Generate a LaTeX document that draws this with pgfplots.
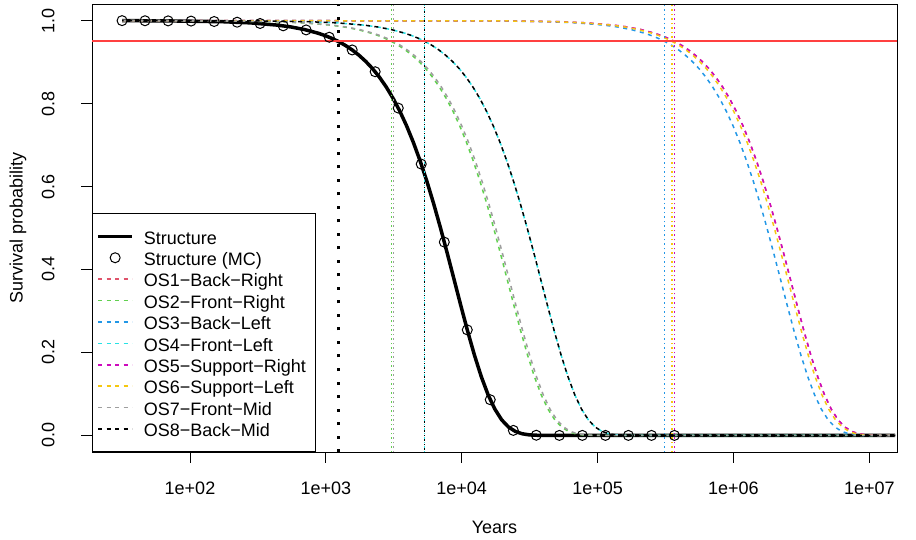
\documentclass[border=0pt]{standalone}
\usepackage{pgfplots}
\usepackage{pgfplotstable}
\pgfplotsset{compat=1.18}
\usepackage{fontspec}
\setmainfont{Liberation Sans}

\definecolor{osRed}{rgb}{0.875,0.325,0.420}
\definecolor{osGreen}{rgb}{0.380,0.816,0.310}
\definecolor{osBlue}{rgb}{0.133,0.592,0.902}
\definecolor{osCyan}{rgb}{0.157,0.886,0.898}
\definecolor{osMagenta}{rgb}{0.804,0.043,0.737}
\definecolor{osGold}{rgb}{0.961,0.780,0.063}
\definecolor{osGray}{rgb}{0.620,0.620,0.620}
\definecolor{targetRed}{rgb}{1,0.25,0.25}

\tikzset{
  osdash/.style={dash pattern=on 4bp off 4.5bp, line width=1.5bp},
  vdot/.style={dash pattern=on 1.5bp off 3bp, line width=1.3bp},
}

% u = log10(years), S = survival probability
\pgfplotstableread{
u S
1.500 0.99979
1.844 0.99931
2.244 0.99724
2.444 0.99451
2.644 0.98907
2.744 0.98460
2.844 0.97832
2.944 0.96951
2.994 0.96388
3.044 0.95723
3.094 0.94934
3.144 0.94012
3.194 0.92921
3.244 0.91644
3.294 0.90148
3.344 0.88410
3.394 0.86373
3.444 0.84020
3.494 0.81308
3.544 0.78200
3.594 0.74654
3.644 0.70650
3.694 0.66177
3.744 0.61220
3.794 0.55809
3.844 0.50000
3.894 0.43875
3.944 0.37570
3.994 0.31233
4.044 0.25080
4.094 0.19326
4.144 0.14180
4.194 0.09810
4.244 0.06340
4.294 0.03763
4.344 0.02030
4.394 0.00974
4.444 0.00407
4.494 0.00144
4.544 0.00042
4.644 0.00002
4.744 0
7.190 0
}\tabStruct

\pgfplotstableread{
u S
1.500 0.9999
1.669 0.9996
1.839 0.9993
2.008 0.9988
2.178 0.9978
2.347 0.9961
2.516 0.9930
2.686 0.9874
2.855 0.9775
3.025 0.9599
3.194 0.9292
3.363 0.8767
3.533 0.7891
3.702 0.6541
3.872 0.4660
4.041 0.2544
4.210 0.0860
4.380 0.0121
4.549 0.0004
4.719 0
4.888 0
5.058 0
5.227 0
5.397 0
5.566 0
}\tabMC

\pgfplotstableread{
u S
1.500 1.0000
2.235 0.99931
2.635 0.99724
2.835 0.99451
3.035 0.98907
3.135 0.98460
3.235 0.97832
3.335 0.96951
3.385 0.96388
3.435 0.95723
3.485 0.94934
3.535 0.94012
3.585 0.92921
3.635 0.91644
3.685 0.90148
3.735 0.88410
3.785 0.86373
3.835 0.84020
3.885 0.81308
3.935 0.78200
3.985 0.74654
4.035 0.70650
4.085 0.66177
4.135 0.61220
4.185 0.55809
4.235 0.50000
4.285 0.43875
4.335 0.37570
4.385 0.31233
4.435 0.25080
4.485 0.19326
4.535 0.14180
4.585 0.09810
4.635 0.06340
4.685 0.03763
4.735 0.02030
4.785 0.00974
4.835 0.00407
4.885 0.00144
4.935 0.00042
5.035 0.00002
5.135 0
7.190 0
}\tabOSii

\pgfplotstableread{
u S
1.500 1.0000
2.250 0.99931
2.650 0.99724
2.850 0.99451
3.050 0.98907
3.150 0.98460
3.250 0.97832
3.350 0.96951
3.400 0.96388
3.450 0.95723
3.500 0.94934
3.550 0.94012
3.600 0.92921
3.650 0.91644
3.700 0.90148
3.750 0.88410
3.800 0.86373
3.850 0.84020
3.900 0.81308
3.950 0.78200
4.000 0.74654
4.050 0.70650
4.100 0.66177
4.150 0.61220
4.200 0.55809
4.250 0.50000
4.300 0.43875
4.350 0.37570
4.400 0.31233
4.450 0.25080
4.500 0.19326
4.550 0.14180
4.600 0.09810
4.650 0.06340
4.700 0.03763
4.750 0.02030
4.800 0.00974
4.850 0.00407
4.900 0.00144
4.950 0.00042
5.050 0.00002
5.150 0
7.190 0
}\tabOSvii

\pgfplotstableread{
u S
1.500 1.0000
2.482 0.99931
2.882 0.99724
3.082 0.99451
3.282 0.98907
3.382 0.98460
3.482 0.97832
3.582 0.96951
3.632 0.96388
3.682 0.95723
3.732 0.94934
3.782 0.94012
3.832 0.92921
3.882 0.91644
3.932 0.90148
3.982 0.88410
4.032 0.86373
4.082 0.84020
4.132 0.81308
4.182 0.78200
4.232 0.74654
4.282 0.70650
4.332 0.66177
4.382 0.61220
4.432 0.55809
4.482 0.50000
4.532 0.43875
4.582 0.37570
4.632 0.31233
4.682 0.25080
4.732 0.19326
4.782 0.14180
4.832 0.09810
4.882 0.06340
4.932 0.03763
4.982 0.02030
5.032 0.00974
5.082 0.00407
5.132 0.00144
5.182 0.00042
5.282 0.00002
5.382 0
7.190 0
}\tabOSiv

\pgfplotstableread{
u S
1.500 1.0000
4.247 0.99931
4.647 0.99724
4.847 0.99451
5.047 0.98907
5.147 0.98460
5.247 0.97832
5.347 0.96951
5.397 0.96388
5.447 0.95723
5.497 0.94934
5.547 0.94012
5.597 0.92921
5.647 0.91644
5.697 0.90148
5.747 0.88410
5.797 0.86373
5.847 0.84020
5.897 0.81308
5.947 0.78200
5.997 0.74654
6.047 0.70650
6.097 0.66177
6.147 0.61220
6.197 0.55809
6.247 0.50000
6.297 0.43875
6.347 0.37570
6.397 0.31233
6.447 0.25080
6.497 0.19326
6.547 0.14180
6.597 0.09810
6.647 0.06340
6.697 0.03763
6.747 0.02030
6.797 0.00974
6.847 0.00407
6.897 0.00144
6.947 0.00042
7.047 0.00002
7.147 0
7.190 0
}\tabOSiii

\pgfplotstableread{
u S
1.500 1.0000
4.301 0.99931
4.701 0.99724
4.901 0.99451
5.101 0.98907
5.201 0.98460
5.301 0.97832
5.401 0.96951
5.451 0.96388
5.501 0.95723
5.551 0.94934
5.601 0.94012
5.651 0.92921
5.701 0.91644
5.751 0.90148
5.801 0.88410
5.851 0.86373
5.901 0.84020
5.951 0.81308
6.001 0.78200
6.051 0.74654
6.101 0.70650
6.151 0.66177
6.201 0.61220
6.251 0.55809
6.301 0.50000
6.351 0.43875
6.401 0.37570
6.451 0.31233
6.501 0.25080
6.551 0.19326
6.601 0.14180
6.651 0.09810
6.701 0.06340
6.751 0.03763
6.801 0.02030
6.851 0.00974
6.901 0.00407
6.951 0.00144
7.001 0.00042
7.101 0.00002
7.190 0
}\tabOSvi

\pgfplotstableread{
u S
1.500 1.0000
4.320 0.99931
4.720 0.99724
4.920 0.99451
5.120 0.98907
5.220 0.98460
5.320 0.97832
5.420 0.96951
5.470 0.96388
5.520 0.95723
5.570 0.94934
5.620 0.94012
5.670 0.92921
5.720 0.91644
5.770 0.90148
5.820 0.88410
5.870 0.86373
5.920 0.84020
5.970 0.81308
6.020 0.78200
6.070 0.74654
6.120 0.70650
6.170 0.66177
6.220 0.61220
6.270 0.55809
6.320 0.50000
6.370 0.43875
6.420 0.37570
6.470 0.31233
6.520 0.25080
6.570 0.19326
6.620 0.14180
6.670 0.09810
6.720 0.06340
6.770 0.03763
6.820 0.02030
6.870 0.00974
6.920 0.00407
6.970 0.00144
7.020 0.00042
7.120 0.00002
7.190 0
}\tabOSv

\begin{document}
\begin{tikzpicture}
\useasboundingbox (-92bp,-88bp) rectangle (824bp,452bp);
\begin{axis}[
  scale only axis,
  width=805bp, height=448bp,
  xmode=log,
  xmin=19, xmax=1.6e7,
  ymin=-0.04, ymax=1.04,
  xtick={1e2,1e3,1e4,1e5,1e6,1e7},
  xticklabels={1e+02,1e+03,1e+04,1e+05,1e+06,1e+07},
  xminorticks=false,
  ytick={0,0.2,0.4,0.6,0.8,1},
  yticklabels={0.0,0.2,0.4,0.6,0.8,1.0},
  tick align=outside,
  xtick pos=bottom, ytick pos=left,
  major tick length=10.8bp,
  tick style={black, line width=0.8bp},
  axis line style={black, line width=0.8bp},
  every tick label/.append style={font=\fontsize{18bp}{21.6bp}\selectfont, inner sep=0pt},
  xticklabel style={anchor=north},
  xticklabel shift=19.2bp,
  yticklabel style={rotate=90, anchor=center},
  yticklabel shift=33bp,
  xlabel={Years},
  ylabel={Survival probability},
  every axis x label/.style={at={(rel axis cs:0.5,0)}, anchor=north, yshift=-69bp, inner sep=0pt, font=\fontsize{18bp}{21.6bp}\selectfont},
  every axis y label/.style={at={(rel axis cs:0,0.5)}, xshift=-74bp, rotate=90, anchor=center, inner sep=0pt, font=\fontsize{18bp}{21.6bp}\selectfont},
  legend image code/.code={\draw[mark repeat=2,mark phase=2,#1] plot coordinates {(0bp,0bp) (17bp,0bp) (34bp,0bp)};},
  legend cell align=left,
  legend style={at={(0,0)}, anchor=south west, draw=black, line width=0.8bp, fill=white,
    inner xsep=4bp, inner ysep=14.3bp, row sep=4.7bp,
    font=\fontsize{18bp}{21.6bp}\selectfont,
    nodes={inner sep=0pt, text height=16bp, text depth=0.7bp},
    /tikz/every odd column/.append style={column sep=10bp}},
]
% structure curve and Monte Carlo points
\addplot[black, line width=3.5bp, forget plot] table[x expr=10^\thisrow{u}, y=S]{\tabStruct};
\addplot[only marks, mark=o, mark size=5bp, black, mark options={line width=1bp}, forget plot] table[x expr=10^\thisrow{u}, y=S]{\tabMC};
% component curves
\addplot[draw=osRed, osdash, forget plot] table[x expr=10^\thisrow{u}, y=S]{\tabOSv};
\addplot[draw=osGreen, osdash, forget plot] table[x expr=10^\thisrow{u}, y=S]{\tabOSii};
\addplot[draw=osBlue, osdash, forget plot] table[x expr=10^\thisrow{u}, y=S]{\tabOSiii};
\addplot[draw=osCyan, osdash, forget plot] table[x expr=10^\thisrow{u}, y=S]{\tabOSiv};
\addplot[draw=osMagenta, osdash, forget plot] table[x expr=10^\thisrow{u}, y=S]{\tabOSv};
\addplot[draw=osGold, osdash, forget plot] table[x expr=10^\thisrow{u}, y=S]{\tabOSvi};
\addplot[draw=osGray, osdash, forget plot] table[x expr=10^\thisrow{u}, y=S]{\tabOSvii};
\addplot[draw=black, osdash, dash phase=2.5bp, forget plot] table[x expr=10^\thisrow{u}, y=S]{\tabOSiv};
% 0.95 crossing times
\addplot[draw=osRed, vdot, forget plot] coordinates {(368100,-0.04) (368100,1.04)};
\addplot[draw=osGreen, vdot, forget plot] coordinates {(3027,-0.04) (3027,1.04)};
\addplot[draw=osBlue, vdot, forget plot] coordinates {(311200,-0.04) (311200,1.04)};
\addplot[draw=osCyan, vdot, forget plot] coordinates {(5346,-0.04) (5346,1.04)};
\addplot[draw=osMagenta, vdot, forget plot] coordinates {(368100,-0.04) (368100,1.04)};
\addplot[draw=osGold, vdot, forget plot] coordinates {(352400,-0.04) (352400,1.04)};
\addplot[draw=osGray, vdot, forget plot] coordinates {(3133,-0.04) (3133,1.04)};
\addplot[draw=black, vdot, dash phase=2bp, forget plot] coordinates {(5346,-0.04) (5346,1.04)};
% reliability target
\addplot[draw=targetRed, line width=2bp, forget plot] coordinates {(19,0.95) (1.6e7,0.95)};
\addplot[draw=black, line width=3bp, dash pattern=on 3bp off 10.5bp, forget plot] coordinates {(1230,-0.04) (1230,1.04)};
% legend
\addlegendimage{black, line width=3.5bp}
\addlegendentry{Structure}
\addlegendimage{only marks, mark=o, mark size=5bp, black, mark options={line width=1bp}}
\addlegendentry{Structure (MC)}
\addlegendimage{draw=osRed, osdash}
\addlegendentry{OS1−Back−Right}
\addlegendimage{draw=osGreen, osdash}
\addlegendentry{OS2−Front−Right}
\addlegendimage{draw=osBlue, osdash}
\addlegendentry{OS3−Back−Left}
\addlegendimage{draw=osCyan, osdash}
\addlegendentry{OS4−Front−Left}
\addlegendimage{draw=osMagenta, osdash}
\addlegendentry{OS5−Support−Right\hspace*{5bp}}
\addlegendimage{draw=osGold, osdash}
\addlegendentry{OS6−Support−Left}
\addlegendimage{draw=osGray, osdash}
\addlegendentry{OS7−Front−Mid}
\addlegendimage{draw=black, osdash}
\addlegendentry{OS8−Back−Mid}
\end{axis}
\end{tikzpicture}
\end{document}
